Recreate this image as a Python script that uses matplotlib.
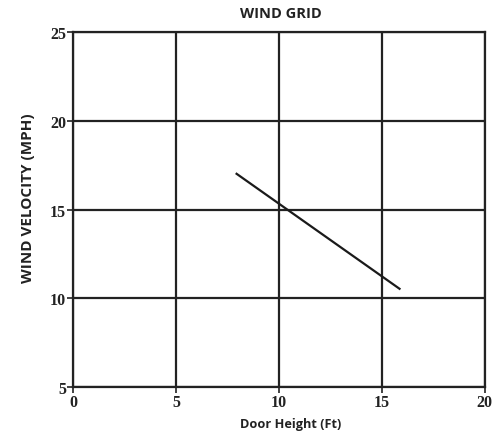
import matplotlib.pyplot as plt

door_height = [7.9, 15.9]
wind_velocity = [17.05, 10.5]
x_ticks = [0, 5, 10, 15, 20]
y_ticks = [5, 10, 15, 20, 25]

plt.rcParams['font.family'] = ['Open Sans', 'DejaVu Sans']

fig = plt.figure(figsize=(4.95, 4.35), dpi=100)
ax = fig.add_axes([0.1475, 0.108, 0.832, 0.816])

ax.plot(door_height, wind_velocity, color='#1a1a1a', lw=1.6, solid_capstyle='butt')

ax.set_xlim(0, 20)
ax.set_ylim(5, 25)
ax.set_xticks(x_ticks)
ax.set_yticks(y_ticks)
ax.grid(True, color='#222222', lw=1.6)
ax.set_axisbelow(True)
for s in ax.spines.values():
    s.set_color('#222222')
    s.set_linewidth(1.6)

ax.tick_params(direction='out', length=4, width=1.2, color='#222222', pad=1)
for lab in ax.get_xticklabels() + ax.get_yticklabels():
    lab.set_fontfamily('Liberation Serif')
    lab.set_fontweight('bold')
    lab.set_fontsize(11.5)
    lab.set_color('#222222')

fig.text(0.567, 0.968, 'WIND GRID', fontsize=10.5, fontweight='bold',
         ha='center', va='center', color='#222222')
fig.text(0.588, 0.025, 'Door Height (Ft)', fontsize=9.2, fontweight='bold',
         ha='center', va='center', color='#222222')
fig.text(0.057, 0.545, 'WIND VELOCITY (MPH)', fontsize=11, fontweight='bold',
         ha='center', va='center', rotation=90, color='#222222')

fig.savefig('out.png', dpi=100)
